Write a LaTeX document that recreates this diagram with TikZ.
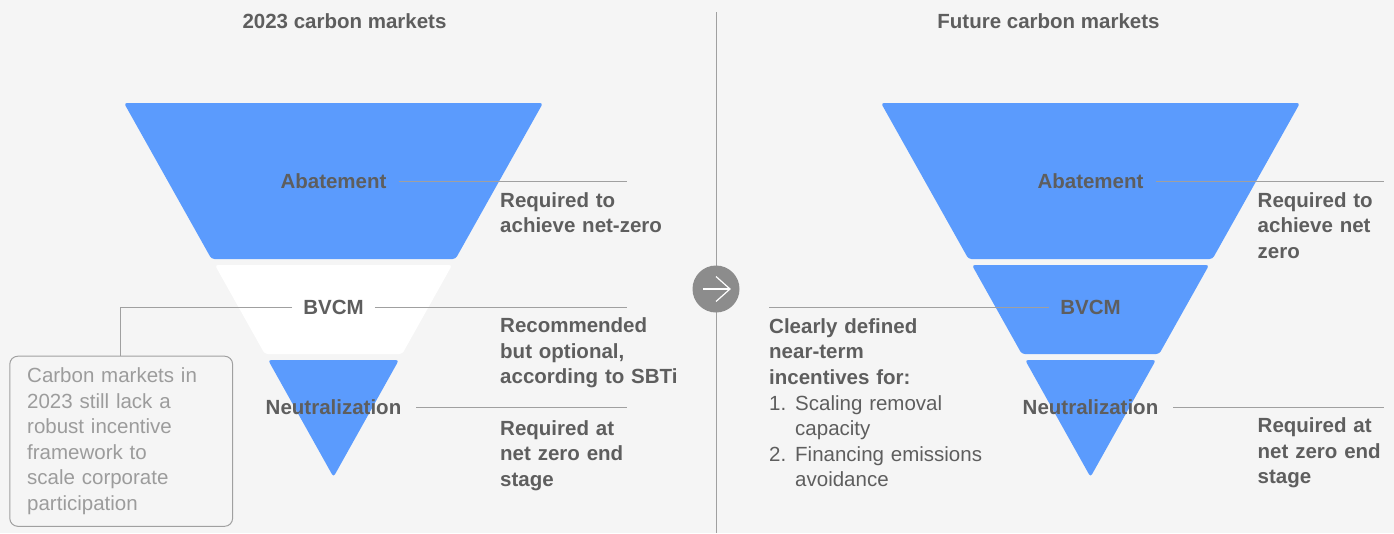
\documentclass[tikz,border=0pt]{standalone}
\usepackage{fontspec}
\setmainfont{Liberation Sans}
\usetikzlibrary{positioning}
\definecolor{bg}{HTML}{F5F5F5}
\definecolor{fblue}{HTML}{5B9BFD}
\definecolor{txt}{HTML}{5E5E5E}
\definecolor{ltxt}{HTML}{9C9C9C}
\definecolor{rule}{HTML}{A0A0A0}
\definecolor{knob}{HTML}{8C8C8C}
\tikzstyle{every node}=[font=\fontsize{20.5pt}{25.6pt}\selectfont\bfseries, text=txt]
\tikzstyle{seg}=[rounded corners=3pt]
\tikzstyle{lbl}=[inner sep=12pt]
\tikzstyle{note}=[anchor=base west, inner sep=0pt, text width=230pt, align=left]
\tikzstyle{lead}=[draw=rule, line width=1pt]

\begin{document}
\begin{tikzpicture}[x=1pt, y=-1pt]
  \useasboundingbox (0,0) rectangle (1394,533);
  \fill[bg] (0,0) rectangle (1394,533);
  % divider and arrow
  \draw[draw=rule, line width=1pt] (716,12) -- (716,533);
  \node[circle, fill=knob, minimum size=47pt, inner sep=0pt] (go) at (716,289) {};
  \draw[white, line width=1.2pt] ([xshift=-13pt]go.center) -- ([xshift=14pt]go.center);
  \draw[white, line width=1.2pt] ([yshift=12.5pt]go.center) -- ([xshift=14pt]go.center) -- ([yshift=-12.5pt]go.center);

  % the two funnels
  \foreach \cx/\mid in {333.5/white, 1090.5/fblue} {
    \fill[seg, fblue] ({\cx-209.5},103) -- ({\cx+209.5},103) -- ({\cx+122},259) -- ({\cx-122},259) -- cycle;
    \fill[seg, \mid] ({\cx-118.6},265) -- ({\cx+118.6},265) -- ({\cx+68.7},354) -- ({\cx-68.7},354) -- cycle;
    \fill[seg, fblue] ({\cx-65.4},360) -- ({\cx+65.4},360) -- (\cx,477) -- cycle;
  }

  % titles
  \node[anchor=base] (T1) at (344.5,28.3) {2023 carbon markets};
  \node[anchor=base] (T2) at (1048.5,28.3) {Future carbon markets};

  % left side
  \node[lbl] (A1) at (333.5,181) {Abatement};
  \node[lbl, inner xsep=11pt] (B1) at (333.5,307) {BVCM};
  \node[lbl, inner xsep=15pt] (N1) at (333.5,407) {Neutralization};
  \coordinate (a1) at (627,181);
  \coordinate (b1) at (627,307);
  \coordinate (n1) at (627,407);
  \coordinate (k1) at (120.7,307);
  \draw[lead] (A1) -- (a1);
  \draw[lead] (B1) -- (b1);
  \draw[lead] (N1) -- (n1);
  \node[note] (ra1) at (500,207.3) {Required to\\achieve net-zero};
  \node[note] (rb1) at (500,332.7) {Recommended\\but optional,\\according to SBTi};
  \node[note] (rn1) at (500,435) {Required at\\net zero end\\stage};
  \node[anchor=north west, draw=rule, line width=1pt, rounded corners=8pt,
        text width=188pt, inner xsep=17.4pt, inner ysep=11.5pt, align=left,
        text=ltxt, font=\fontsize{20.5pt}{25.6pt}\selectfont] (box) at (9.3,355.7)
        {Carbon markets in\\2023 still lack a\\robust incentive\\framework to\\scale corporate\\participation};
  \draw[lead] (B1) -- (k1) -- (k1 |- box.north);

  % right side
  \node[lbl] (A2) at (1090.5,181) {Abatement};
  \node[lbl, inner xsep=11pt] (B2) at (1090.5,307) {BVCM};
  \node[lbl, inner xsep=15pt] (N2) at (1090.5,407) {Neutralization};
  \coordinate (a2) at (1383.5,181);
  \coordinate (b2) at (769,307);
  \coordinate (n2) at (1383.5,407);
  \draw[lead] (A2) -- (a2);
  \draw[lead] (B2) -- (b2);
  \draw[lead] (N2) -- (n2);
  \node[note] (ra2) at (1257.5,207.3) {Required to\\achieve net\\zero};
  \node[note] (rn2) at (1257.5,432.7) {Required at\\net zero end\\stage};
  \node[note] (inc) at (769,333.3) {Clearly defined\\near-term\\incentives for:\\
    \mdseries\makebox[26pt][l]{1.}Scaling removal\\\hspace*{26pt}capacity\\
    \makebox[26pt][l]{2.}Financing emissions\\\hspace*{26pt}avoidance};
\end{tikzpicture}
\end{document}
